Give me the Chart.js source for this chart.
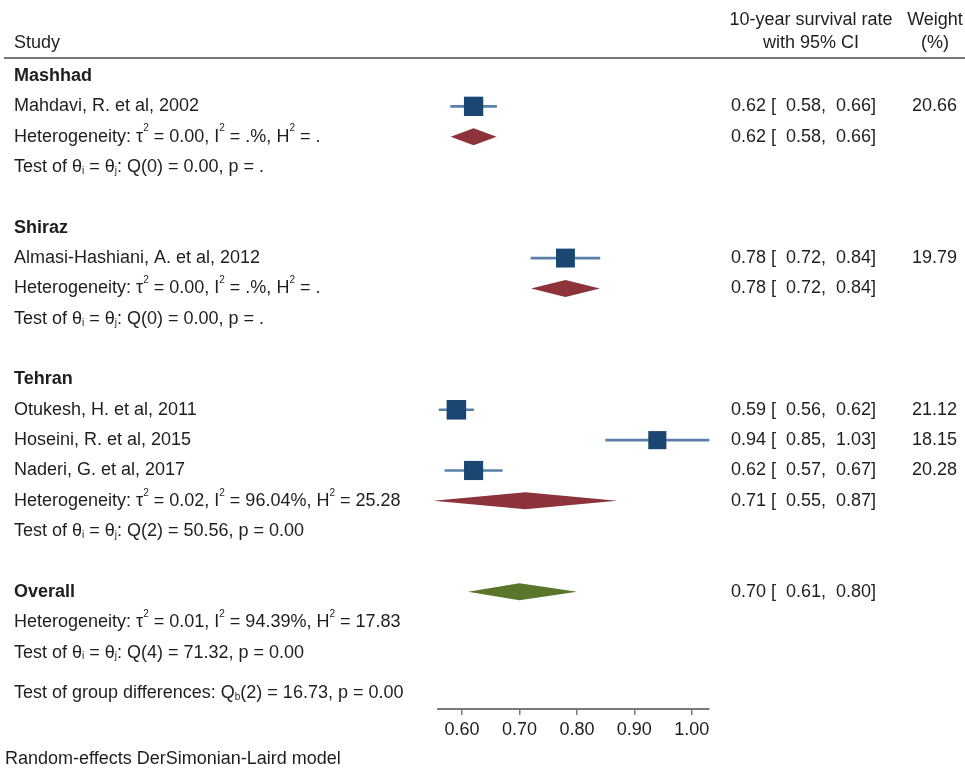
<!DOCTYPE html>
<html>
<head>
<meta charset="utf-8">
<script src="https://cdn.jsdelivr.net/npm/chart.js@4.4.1/dist/chart.umd.min.js"></script>
<style>
  html, body { margin: 0; padding: 0; background: #fff; }
  #forest { display: block; }
</style>
</head>
<body>
<canvas id="forest" width="965" height="768"></canvas>
<script>
// studies
const studyLabels = ["Mahdavi, R. et al, 2002", "Almasi-Hashiani, A. et al, 2012",
    "Otukesh, H. et al, 2011", "Hoseini, R. et al, 2015", "Naderi, G. et al, 2017"];
const studyRows = [1, 6, 11, 12, 13];
const studyEst = [0.62, 0.78, 0.59, 0.94, 0.62];
const studyLo = [0.58, 0.72, 0.56, 0.85, 0.57];
const studyHi = [0.66, 0.84, 0.62, 1.03, 0.67];
const studyWeight = [20.66, 19.79, 21.12, 18.15, 20.28];

// subgroups + overall
const groupNames = ["Mashhad", "Shiraz", "Tehran", "Overall"];
const groupRows = [0, 5, 10, 17];
const poolRows = [2, 7, 14, 17];
const poolEst = [0.62, 0.78, 0.71, 0.70];
const poolLo = [0.58, 0.72, 0.55, 0.61];
const poolHi = [0.66, 0.84, 0.87, 0.80];
const hetText = [
    "Heterogeneity: τ^{2} = 0.00, I^{2} = .%, H^{2} = .",
    "Heterogeneity: τ^{2} = 0.00, I^{2} = .%, H^{2} = .",
    "Heterogeneity: τ^{2} = 0.02, I^{2} = 96.04%, H^{2} = 25.28",
    "Heterogeneity: τ^{2} = 0.01, I^{2} = 94.39%, H^{2} = 17.83"
];
const hetRows = [2, 7, 14, 18];
const testText = [
    "Test of θ_{i} = θ_{j}: Q(0) = 0.00, p = .",
    "Test of θ_{i} = θ_{j}: Q(0) = 0.00, p = .",
    "Test of θ_{i} = θ_{j}: Q(2) = 50.56, p = 0.00",
    "Test of θ_{i} = θ_{j}: Q(4) = 71.32, p = 0.00"
];
const testRows = [3, 8, 15, 19];
const groupDiffText = "Test of group differences: Q_{b}(2) = 16.73, p = 0.00";
const groupDiffRow = 20.33;
const modelNote = "Random-effects DerSimonian-Laird model";

const xTicks = [0.6, 0.7, 0.8, 0.9, 1.0];

const FONT = '"Liberation Sans", Arial, Helvetica, sans-serif';
const INK = "#1e1e1e";

function fmtCI(e, l, h) {
    return e.toFixed(2) + " [  " + l.toFixed(2) + ",  " + h.toFixed(2) + "]";
}

// text with ^{sup} and _{sub} pieces
function drawRich(ctx, str, x, y, bold) {
    const parts = str.split(/(\^\{[^}]*\}|_\{[^}]*\})/);
    ctx.textAlign = "left";
    ctx.textBaseline = "middle";
    for (const p of parts) {
        if (!p) continue;
        let txt = p, dy = 0, size = 18;
        if (p.startsWith("^{")) { txt = p.slice(2, -1); dy = -8; size = 10; }
        else if (p.startsWith("_{")) { txt = p.slice(2, -1); dy = 4; size = 10; }
        ctx.font = (bold ? "bold " : "") + size + "px " + FONT;
        ctx.fillText(txt, x, y + dy);
        x += ctx.measureText(txt).width;
    }
}

const diamonds = {
    id: "diamonds",
    afterDatasetsDraw(chart) {
        const { ctx, scales: { x, y } } = chart;
        ctx.save();
        poolEst.forEach((e, i) => {
            const yc = y.getPixelForValue(poolRows[i]);
            const h = 8.5;
            ctx.beginPath();
            ctx.moveTo(x.getPixelForValue(poolLo[i]), yc);
            ctx.lineTo(x.getPixelForValue(e), yc - h);
            ctx.lineTo(x.getPixelForValue(poolHi[i]), yc);
            ctx.lineTo(x.getPixelForValue(e), yc + h);
            ctx.closePath();
            ctx.fillStyle = i === poolEst.length - 1 ? "#59762b" : "#8c333b";
            ctx.fill();
        });
        ctx.restore();
    }
};

const tableText = {
    id: "tableText",
    afterDraw(chart) {
        const { ctx, scales: { y } } = chart;
        const yp = r => y.getPixelForValue(r);
        ctx.save();
        ctx.fillStyle = INK;
        ctx.textBaseline = "middle";
        ctx.font = "18px " + FONT;

        // header
        ctx.textAlign = "left";
        ctx.fillText("Study", 14, 43);
        ctx.textAlign = "center";
        ctx.fillText("10-year survival rate", 811, 20);
        ctx.fillText("with 95% CI", 811, 43);
        ctx.fillText("Weight", 935, 20);
        ctx.fillText("(%)", 935, 43);

        ctx.strokeStyle = "#7a7a7a";
        ctx.lineWidth = 2;
        ctx.beginPath();
        ctx.moveTo(4, 58);
        ctx.lineTo(965, 58);
        ctx.stroke();

        groupNames.forEach((g, i) => drawRich(ctx, g, 14, yp(groupRows[i]), true));
        studyLabels.forEach((s, i) => drawRich(ctx, s, 14, yp(studyRows[i]), false));
        hetText.forEach((s, i) => drawRich(ctx, s, 14, yp(hetRows[i]), false));
        testText.forEach((s, i) => drawRich(ctx, s, 14, yp(testRows[i]), false));
        drawRich(ctx, groupDiffText, 14, yp(groupDiffRow), false);

        ctx.font = "18px " + FONT;
        ctx.textAlign = "left";
        studyEst.forEach((e, i) => ctx.fillText(fmtCI(e, studyLo[i], studyHi[i]), 731, yp(studyRows[i])));
        poolEst.forEach((e, i) => ctx.fillText(fmtCI(e, poolLo[i], poolHi[i]), 731, yp(poolRows[i])));
        ctx.textAlign = "right";
        studyWeight.forEach((w, i) => ctx.fillText(w.toFixed(2), 957, yp(studyRows[i])));

        ctx.textAlign = "left";
        ctx.fillText(modelNote, 5, 759);
        ctx.restore();
    }
};

new Chart(document.getElementById("forest"), {
    type: "scatter",
    data: {
        datasets: [{
            label: "Estimate",
            data: studyEst.map((e, i) => ({ x: e, y: studyRows[i] })),
            pointStyle: "rect",
            pointRadius: studyWeight.map(w => 4.25 * Math.sqrt(w) / Math.SQRT2),
            backgroundColor: "#1b4672",
            borderColor: "#1b4672",
            borderWidth: 0,
            order: 0,
            clip: false
        }, {
            type: "bar",
            label: "95% CI",
            indexAxis: "y",
            data: studyEst.map((e, i) => ({ x: [studyLo[i], studyHi[i]], y: studyRows[i] })),
            backgroundColor: "#5a80a9",
            barThickness: 2,
            order: 1,
            clip: false
        }]
    },
    options: {
        responsive: false,
        animation: false,
        layout: { padding: { left: 438, right: 256, top: 60, bottom: 19 } },
        plugins: {
            legend: { display: false },
            tooltip: { enabled: false }
        },
        scales: {
            x: {
                type: "linear",
                min: 0.558,
                max: 1.03,
                offset: false,
                afterBuildTicks: s => { s.ticks = xTicks.map(v => ({ value: v })); },
                afterFit: s => { s.height = 40; },
                ticks: {
                    callback: v => v.toFixed(2),
                    font: { family: FONT, size: 18 },
                    color: INK,
                    padding: 4,
                    maxRotation: 0,
                    autoSkip: false
                },
                grid: { offset: false, drawOnChartArea: false, drawTicks: true, tickLength: 6, color: "#7a7a7a", lineWidth: 1.5 },
                border: { display: true, color: "#7a7a7a", width: 2 }
            },
            y: {
                type: "linear",
                reverse: true,
                min: -0.527,
                max: 20.86,
                offset: false,
                grid: { offset: false },
                display: false
            }
        }
    },
    plugins: [diamonds, tableText]
});
</script>
</body>
</html>
